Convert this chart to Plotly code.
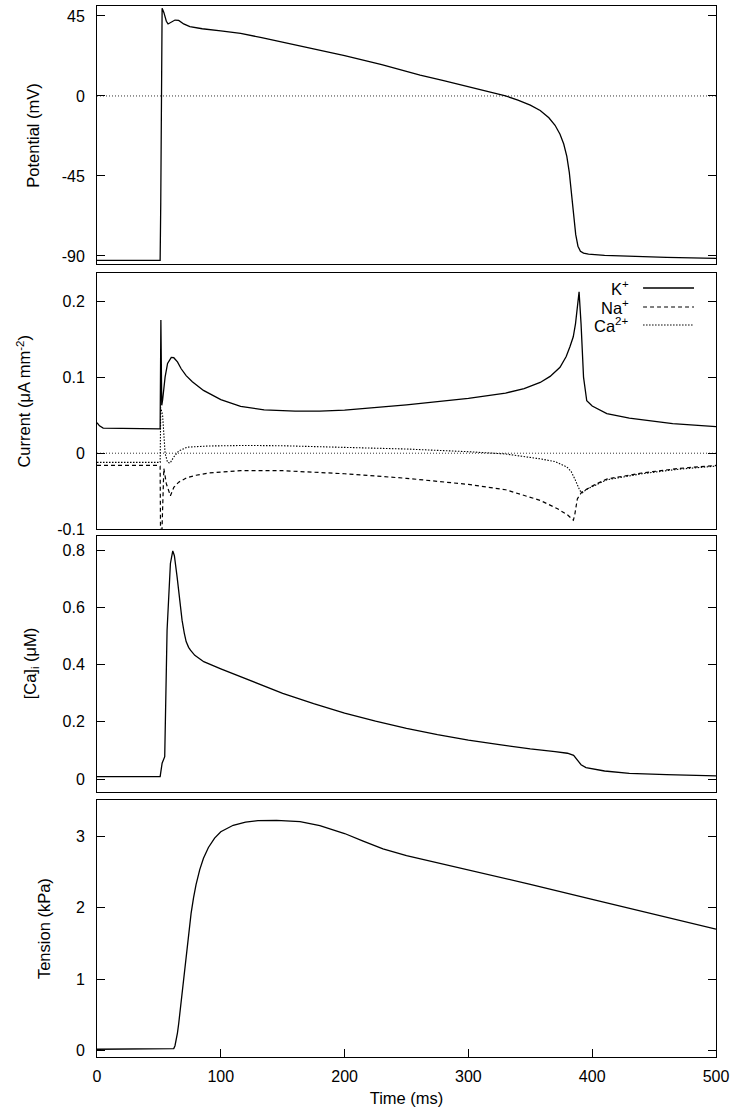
import plotly.graph_objects as go

# ---------------- data ----------------
t_v = [0, 50, 51, 51.5, 52, 52.6, 54, 56, 57.4, 60, 63, 66, 70, 75, 85, 100, 116, 133, 150, 175, 200,
       230, 261, 280, 300, 315, 330, 340, 350, 358, 365, 370, 374, 377, 379.5, 381.5, 383.3, 385,
       386.7, 388.5, 390.5, 393, 397, 410, 430, 460, 500]
potential = [-92.5, -92.5, -92.4, -60, 0, 49.3, 47, 42, 40.5, 41.5, 42.7, 42.5, 40.5, 39, 37.8, 36.6,
             35.2, 32.8, 30.2, 26.5, 22.7, 17.6, 11.7, 8.6, 5.3, 2.7, 0, -2.3, -5.2, -8.2, -12.3,
             -16.5, -21.5, -27, -34, -43, -55, -68, -78, -84.5, -87.3, -88.4, -89, -89.7, -90.2,
             -90.8, -91.3]

t_k = [0, 2, 5, 50, 51, 51.6, 52.3, 53, 55, 57, 60, 62, 65, 68, 72, 77, 86, 100, 116, 135, 160, 180,
       200, 250, 300, 330, 345, 358, 366, 374, 379, 382, 384.7, 386.5, 388, 389.4, 391, 393, 395.6,
       400, 411.8, 430, 465, 500]
i_k = [0.04, 0.036, 0.033, 0.032, 0.032, 0.175, 0.063, 0.07, 0.1, 0.118, 0.126, 0.1255, 0.12, 0.111,
       0.102, 0.094, 0.0825, 0.0705, 0.0615, 0.057, 0.0553, 0.0553, 0.0565, 0.0635, 0.072, 0.079,
       0.085, 0.093, 0.101, 0.113, 0.127, 0.14, 0.153, 0.17, 0.19, 0.212, 0.17, 0.1, 0.069, 0.062,
       0.052, 0.046, 0.039, 0.035]

t_na = [0, 50, 51, 51.3, 52.5, 54, 56, 59.3, 62, 66, 72.8, 80, 90, 100, 116, 150, 200, 250, 300, 330,
        358, 372, 380, 384.8, 386, 388, 391.6, 400, 411.8, 440, 470, 500]
i_na = [-0.016, -0.016, -0.017, -0.1, -0.1, -0.02, -0.04, -0.056, -0.045, -0.038, -0.032, -0.029,
        -0.026, -0.0245, -0.023, -0.023, -0.027, -0.033, -0.041, -0.048, -0.062, -0.073, -0.081,
        -0.088, -0.08, -0.06, -0.051, -0.043, -0.034, -0.026, -0.02, -0.016]

t_ca = [0, 50, 51, 51.5, 53, 55, 57, 59, 62, 66, 73, 90, 120, 150, 200, 250, 300, 330, 358, 370,
        379.5, 383, 386, 390, 392, 396, 411.8, 440, 470, 500]
i_ca = [-0.012, -0.012, -0.012, 0.06, 0.05, 0.0, -0.012, -0.013, -0.005, 0.003, 0.008, 0.0095, 0.0102,
        0.0098, 0.008, 0.0055, 0.002, -0.001, -0.0074, -0.011, -0.018, -0.024, -0.034, -0.049, -0.052,
        -0.047, -0.035, -0.027, -0.021, -0.017]

t_cai = [0, 51, 52.6, 54.7, 56.6, 59.3, 61.2, 62.5, 64.7, 68.7, 70.5, 72, 74, 75.5, 79, 86.2, 100,
         115.8, 130, 150, 175, 200, 225, 250, 275, 300, 325, 350, 370, 380, 385, 388, 391, 395, 410,
         430, 460, 500]
ca_i = [0.008, 0.008, 0.055, 0.078, 0.52, 0.753, 0.797, 0.78, 0.706, 0.555, 0.51, 0.48, 0.46, 0.45,
        0.432, 0.41, 0.385, 0.357, 0.332, 0.299, 0.263, 0.23, 0.202, 0.177, 0.155, 0.136, 0.12, 0.105,
        0.096, 0.09, 0.083, 0.068, 0.05, 0.04, 0.028, 0.02, 0.015, 0.011]

t_ten = [0, 61, 62, 63, 64, 65, 66, 67, 68, 69, 70, 72, 74, 76, 78, 80, 83, 86, 90, 95, 100, 110, 120,
         130, 145, 164, 180, 200, 215, 231, 250, 270, 300, 350, 400, 450, 500]
tension = [0.02, 0.02, 0.03, 0.07, 0.14, 0.25, 0.38, 0.53, 0.69, 0.86, 1.03, 1.36, 1.66, 1.92, 2.14,
           2.32, 2.53, 2.69, 2.84, 2.97, 3.06, 3.15, 3.195, 3.215, 3.22, 3.2, 3.145, 3.035, 2.93, 2.82,
           2.725, 2.645, 2.53, 2.325, 2.115, 1.905, 1.7]

legend_names = ["K<sup>+</sup>", "Na<sup>+</sup>", "Ca<sup>2+</sup>"]

y_titles = ["Potential (mV)", "Current (\u03bcA mm<sup>-2</sup>)", "[Ca]<sub>i</sub> (\u03bcM)",
            "Tension (kPa)"]
y_ticks = [[-90, -45, 0, 45], [-0.1, 0, 0.1, 0.2], [0, 0.2, 0.4, 0.6, 0.8], [0, 1, 2, 3]]
y_ticktext = [["-90", "-45", "0", "45"], ["-0.1", "0", "0.1", "0.2"],
              ["0", "0.2", "0.4", "0.6", "0.8"], ["0", "1", "2", "3"]]
y_ranges = [[-94.7, 50.6], [-0.1, 0.2372], [-0.0437, 0.849], [-0.088, 3.503]]
x_ticks = [0, 100, 200, 300, 400, 500]

# ---------------- figure ----------------
W, H = 736, 1117
ML, MR, MT, MB = 96.5, 20, 6, 60
fig = go.Figure()

domains = [[0.7542, 1.0], [0.5021, 0.7462], [0.2526, 0.4957], [0.0, 0.2445]]
FONT = "Liberation Sans, Arial, Helvetica, sans-serif"
black = "#000000"
TICK_FS = 16
TITLE_FS = 16.5

line_solid = dict(color=black, width=1.3)
dash_na = dict(color=black, width=1.2, dash="4px,3px")
dot_ca = dict(color=black, width=1.1, dash="1.5px,1.5px")

fig.add_trace(go.Scatter(x=t_v, y=potential, mode="lines", line=line_solid, xaxis="x", yaxis="y",
                         showlegend=False))
fig.add_trace(go.Scatter(x=t_k, y=i_k, mode="lines", line=line_solid, xaxis="x2", yaxis="y2",
                         name=legend_names[0], showlegend=False))
fig.add_trace(go.Scatter(x=t_na, y=i_na, mode="lines", line=dash_na,
                         xaxis="x2", yaxis="y2", name=legend_names[1], showlegend=False))
fig.add_trace(go.Scatter(x=t_ca, y=i_ca, mode="lines", line=dot_ca,
                         xaxis="x2", yaxis="y2", name=legend_names[2], showlegend=False))
fig.add_trace(go.Scatter(x=t_cai, y=ca_i, mode="lines", line=line_solid, xaxis="x3", yaxis="y3",
                         showlegend=False))
fig.add_trace(go.Scatter(x=t_ten, y=tension, mode="lines", line=line_solid, xaxis="x4", yaxis="y4",
                         showlegend=False))

layout = dict(width=W, height=H, margin=dict(l=ML, r=MR, t=MT, b=MB),
              paper_bgcolor="white", plot_bgcolor="white",
              font=dict(family=FONT, size=TICK_FS, color=black), showlegend=False)

for i in range(4):
    sx = "" if i == 0 else str(i + 1)
    last = (i == 3)
    xa = dict(
        domain=[0, 1], range=[0, 500], anchor="y" + sx,
        showline=True, linecolor=black, linewidth=1, mirror=True,
        showgrid=False, zeroline=False,
    )
    if last:
        xa.update(ticks="inside", ticklen=8, tickcolor=black, tickvals=x_ticks,
                  showticklabels=True, tickfont=dict(size=TICK_FS, family=FONT), ticklabelstandoff=5,
                  title=dict(text="Time (ms)", font=dict(size=TITLE_FS, family=FONT), standoff=8))
    else:
        xa.update(ticks="", showticklabels=False, matches="x4")
    layout["xaxis" + sx] = xa
    layout["yaxis" + sx] = dict(
        domain=domains[i], range=y_ranges[i], anchor="x" + sx,
        showline=True, linecolor=black, linewidth=1, mirror="ticks",
        showgrid=False, zeroline=False,
        ticks="inside", ticklen=8, tickcolor=black,
        tickvals=y_ticks[i], ticktext=y_ticktext[i],
        tickfont=dict(size=TICK_FS, family=FONT), ticklabelstandoff=8,
    )

fig.update_layout(**layout)

# zero reference lines (dotted) in potential and current panels
for yref in ["y", "y2"]:
    xr = "x" if yref == "y" else "x2"
    fig.add_shape(type="line", xref=xr + " domain", yref=yref, x0=0, x1=1, y0=0, y1=0,
                  line=dict(color="#333333", width=1, dash="1px,2px"), layer="below")

pw = W - ML - MR
ph = H - MT - MB

# y axis titles (rotated annotations)
title_x = [33, 23, 30, 43]
for i in range(4):
    d = domains[i]
    ym = (d[0] + d[1]) / 2
    fig.add_annotation(text=y_titles[i], xref="paper", yref="paper",
                       x=(title_x[i] - ML) / pw, y=ym, textangle=-90,
                       xanchor="center", yanchor="middle", showarrow=False,
                       font=dict(size=TITLE_FS, family=FONT, color=black))

# legend (gnuplot style: text right-aligned, sample line to its right)
leg_y_px = [288, 307, 325]
leg_styles = [line_solid, dash_na, dot_ca]
for k in range(3):
    yp = (H - MB - leg_y_px[k]) / ph
    fig.add_annotation(text=legend_names[k], xref="paper", yref="paper",
                       x=(631 - ML) / pw, y=yp, xanchor="right", yanchor="middle",
                       showarrow=False, font=dict(size=TITLE_FS, family=FONT, color=black))
    fig.add_shape(type="line", xref="paper", yref="paper",
                  x0=(643 - ML) / pw, x1=(694 - ML) / pw, y0=yp, y1=yp, line=leg_styles[k])

fig.write_html("out.html", config={"displayModeBar": False},
               post_script="document.body.style.margin='0px';document.body.style.overflow='hidden';")
